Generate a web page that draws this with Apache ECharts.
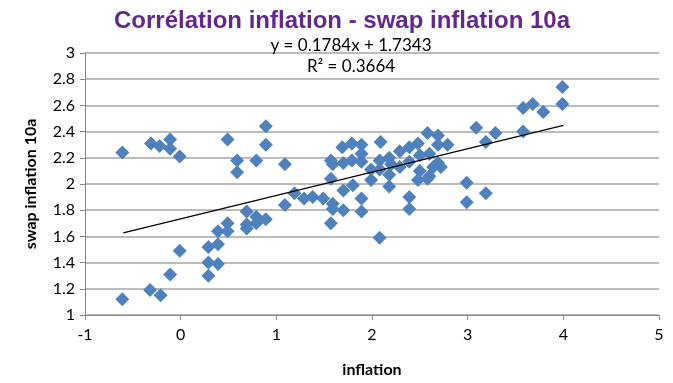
<!DOCTYPE html>
<html>
<head>
<meta charset="utf-8">
<script src="https://cdn.jsdelivr.net/npm/echarts@6/dist/echarts.min.js"></script>
<style>
html,body{margin:0;padding:0;background:#fff;}
#chart{width:673px;height:383px;}
</style>
</head>
<body>
<div id="chart"></div>
<script>
// Data
var chartTitle = 'Corrélation inflation - swap inflation 10a';
var xAxisName = 'inflation';
var yAxisName = 'swap inflation 10a';
var equationText = 'y = 0.1784x + 1.7343';
var r2Text = 'R² = 0.3664';
var trendSlope = 0.1784;
var trendIntercept = 1.7343;
var trendRange = [-0.6, 4.0];

var xValues = [
  -0.61,-0.31,-0.22,-0.11,-0.11,-0.01,0.49,0.89,0.89,0.59,0.59,0.79,1.09,
  -0.61,-0.32,-0.21,-0.11,-0.01,0.29,0.29,0.39,0.29,0.39,0.39,0.49,0.49,0.69,0.69,0.69,0.79,0.79,0.89,1.09,1.19,1.29,1.38,1.49,
  1.57,1.59,1.59,1.57,1.70,1.70,1.80,1.89,1.89,1.99,2.08,2.18,2.18,2.39,2.39,2.48,2.58,2.60,
  1.57,1.59,1.69,1.70,1.79,1.79,1.89,1.89,1.89,1.99,2.09,2.08,2.08,2.18,2.20,2.29,2.29,2.39,2.39,2.48,2.50,2.58,2.60,2.69,2.69,2.69,2.64,2.79,2.72,2.50,
  2.99,2.99,3.19,3.09,3.29,3.19,3.58,3.68,3.79,3.99,3.99,3.58
];
var yValues = [
  2.24,2.31,2.29,2.34,2.27,2.21,2.34,2.44,2.30,2.18,2.09,2.18,2.15,
  1.12,1.19,1.15,1.31,1.49,1.30,1.40,1.39,1.52,1.54,1.64,1.70,1.64,1.79,1.66,1.69,1.75,1.70,1.73,1.84,1.93,1.89,1.90,1.89,
  2.04,1.85,1.81,1.70,1.95,1.80,1.99,1.89,1.79,2.03,1.59,1.98,2.07,1.90,1.81,2.03,2.04,2.06,
  2.18,2.15,2.28,2.16,2.31,2.18,2.30,2.23,2.17,2.11,2.32,2.18,2.11,2.20,2.15,2.25,2.13,2.28,2.17,2.31,2.22,2.39,2.23,2.37,2.30,2.16,2.13,2.30,2.13,2.10,
  2.01,1.86,1.93,2.43,2.39,2.32,2.58,2.61,2.55,2.74,2.61,2.40
];

var scatterData = xValues.map(function (x, i) { return [x, yValues[i]]; });
var trendData = trendRange.map(function (x) { return [x, trendSlope * x + trendIntercept]; });

var chart = echarts.init(document.getElementById('chart'), null, {renderer: 'canvas'});
var font = 'Lato, "Liberation Sans", Arial, sans-serif';
chart.setOption({
  animation: false,
  backgroundColor: '#ffffff',
  title: [
    {
      text: chartTitle, left: 337, top: 4, textAlign: 'center',
      textStyle: {fontFamily: '"Liberation Sans", Arial, sans-serif', fontWeight: 'bold', fontSize: 24, color: '#62288C'}
    },
    {
      text: equationText, left: 346, top: 32, textAlign: 'center',
      textStyle: {fontFamily: font, fontWeight: 'normal', fontSize: 17, color: '#000'}
    },
    {
      text: r2Text, left: 346, top: 53, textAlign: 'center',
      textStyle: {fontFamily: font, fontWeight: 'normal', fontSize: 17, color: '#000'}
    }
  ],
  grid: {left: 85, right: 14, top: 53, bottom: 68, containLabel: false},
  xAxis: {
    type: 'value', min: -1, max: 5, interval: 1,
    name: xAxisName, nameLocation: 'middle', nameGap: 47,
    nameTextStyle: {fontFamily: font, fontWeight: 'bold', fontSize: 16, color: '#000'},
    axisLine: {show: true, onZero: false, lineStyle: {color: '#868686', width: 1}},
    axisTick: {show: true, inside: false, length: 5, lineStyle: {color: '#868686'}},
    axisLabel: {fontFamily: font, fontSize: 16, color: '#000', margin: 12},
    splitLine: {show: false}
  },
  yAxis: {
    type: 'value', min: 1, max: 3, interval: 0.2,
    name: yAxisName, nameLocation: 'middle', nameGap: 46, nameRotate: 90,
    nameTextStyle: {fontFamily: font, fontWeight: 'bold', fontSize: 16, color: '#000'},
    axisLine: {show: true, onZero: false, lineStyle: {color: '#868686', width: 1}},
    axisTick: {show: true, inside: false, length: 5, lineStyle: {color: '#868686'}},
    axisLabel: {fontFamily: font, fontSize: 16, color: '#000', margin: 10,
      formatter: function (v) { return String(Math.round(v * 10) / 10); }},
    splitLine: {show: true, lineStyle: {color: '#A6A6A6', width: 1.5}}
  },
  series: [
    {
      type: 'scatter', symbol: 'diamond', symbolSize: 14,
      itemStyle: {color: '#4F81BD', opacity: 1},
      data: scatterData, z: 3
    },
    {
      type: 'line', data: trendData, symbol: 'none', silent: true,
      lineStyle: {color: '#000', width: 1.2}, z: 4
    }
  ]
});
</script>
</body>
</html>
